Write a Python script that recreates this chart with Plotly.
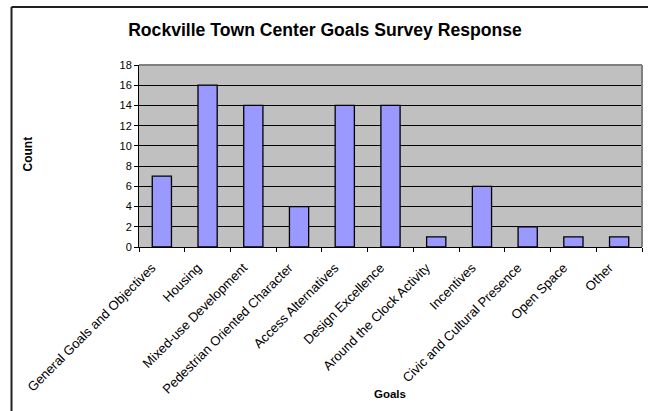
import plotly.graph_objects as go

categories = ["General Goals and Objectives", "Housing", "Mixed-use Development",
              "Pedestrian Oriented Character", "Access Alternatives", "Design Excellence",
              "Around the Clock Activity", "Incentives", "Civic and Cultural Presence",
              "Open Space", "Other"]
counts = [7, 16, 14, 4, 14, 14, 1, 6, 2, 1, 1]
y_ticks = [0, 2, 4, 6, 8, 10, 12, 14, 16, 18]

FONT = "Liberation Sans, Arial, sans-serif"
W, H = 648, 411
L, R, T, B = 139, 6, 65, 164
pw, ph = W - L - R, H - T - B

def px_x(p):
    return (p - L) / pw

def px_y(p):
    return (H - B - p) / ph

fig = go.Figure(go.Bar(
    x=categories, y=counts,
    marker=dict(color="#9999FF", line=dict(color="black", width=1.3)),
    width=0.42,
))

fig.update_layout(
    width=W, height=H,
    margin=dict(l=L, r=R, t=T, b=B, autoexpand=False),
    paper_bgcolor="white",
    plot_bgcolor="#C0C0C0",
    showlegend=False,
    font=dict(family=FONT, size=11, color="black"),
    title=dict(text="<b>Rockville Town Center Goals Survey Response</b>",
               font=dict(size=17.6, family=FONT, color="black"),
               x=325 / W, xref="container", xanchor="center",
               y=1 - 30 / H, yref="container", yanchor="middle"),
    xaxis=dict(
        type="category", tickangle=-45, tickson="boundaries",
        ticks="outside", ticklen=4, tickcolor="black",
        showline=True, linecolor="black", linewidth=1,
        showgrid=False, tickfont=dict(size=13.1, family=FONT),
        ticklabelshift=-10, ticklabelstandoff=7,
        range=[-0.5, len(categories) - 0.5], automargin=False,
    ),
    yaxis=dict(
        range=[0, 18], tickvals=y_ticks, ticks="outside", ticklen=4, tickcolor="black",
        showline=True, linecolor="black", linewidth=1,
        showgrid=True, gridcolor="black", gridwidth=1,
        tickfont=dict(size=11, family=FONT), zeroline=False, automargin=False,
    ),
    annotations=[
        dict(text="<b>Goals</b>", x=px_x(390), y=px_y(394), xref="paper", yref="paper",
             showarrow=False, font=dict(size=11.5, family=FONT), xanchor="center", yanchor="middle"),
        dict(text="<b>Count</b>", x=px_x(27.5), y=px_y(154), xref="paper", yref="paper",
             showarrow=False, font=dict(size=12, family=FONT), textangle=-90,
             xanchor="center", yanchor="middle"),
    ],
    shapes=[
        dict(type="line", xref="paper", yref="paper", x0=0, x1=1, y0=1, y1=1,
             line=dict(color="#808080", width=2)),
        dict(type="line", xref="paper", yref="paper", x0=1, x1=1, y0=0, y1=1,
             line=dict(color="#808080", width=2)),
        dict(type="line", xref="paper", yref="paper", x0=px_x(11.5), x1=px_x(660),
             y0=px_y(7), y1=px_y(7), line=dict(color="#202020", width=2)),
        dict(type="line", xref="paper", yref="paper", x0=px_x(11.5), x1=px_x(11.5),
             y0=px_y(7), y1=px_y(420), line=dict(color="#202020", width=2)),
    ],
)

fig.write_html("out.html", config={"displayModeBar": False},
               post_script="document.body.style.margin='0px';")
